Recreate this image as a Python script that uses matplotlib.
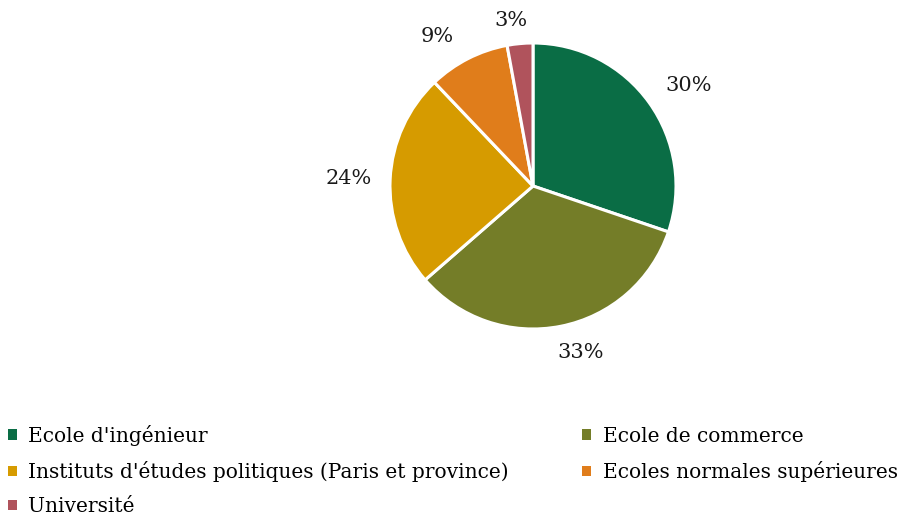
import matplotlib.pyplot as plt
from matplotlib.patches import Patch

labels = ["Ecole d'ingénieur", "Ecole de commerce",
          "Instituts d'études politiques (Paris et province)",
          "Ecoles normales supérieures", "Université"]
shares = [30.2, 33.4, 24.3, 9.2, 2.9]
colors = ['#0a6d45', '#747d28', '#d69b00', '#e07d1b', '#b0535c']

# where the percentage labels sit, in pie-radius units (Excel best fit)
label_xy = [(1.09, 0.70), (0.33, -1.165), (-1.29, 0.05), (-0.67, 1.045), (-0.155, 1.157)]

plt.rcParams['font.family'] = ['DejaVu Serif']

fig = plt.figure(figsize=(9.02, 5.17), dpi=100)
r = 143 / 517
ax = fig.add_axes([533 / 902 - r * 517 / 902, 1 - 186 / 517 - r, 2 * r * 517 / 902, 2 * r])

wedges, texts, autotexts = ax.pie(
    shares, colors=colors, startangle=90, counterclock=False, radius=1,
    autopct='%.0f%%', pctdistance=1.24,
    wedgeprops=dict(edgecolor='white', linewidth=2.2),
    textprops=dict(fontsize=15, color='#1a1a1a'))
for t, xy in zip(autotexts, label_xy):
    t.set_position(xy)
ax.set_xlim(-1, 1)
ax.set_ylim(-1, 1)
ax.set_aspect('equal')
ax.axis('off')

# legend filled column-wise, so reorder to read row by row
order = [0, 2, 4, 1, 3]
handles = [Patch(facecolor=colors[i]) for i in order]
fig.legend(handles, [labels[i] for i in order], ncol=2, loc='upper left',
           bbox_to_anchor=(0.009, 1 - 425 / 517), bbox_transform=fig.transFigure,
           frameon=False, fontsize=14.5, handlelength=0.45, handleheight=0.45,
           handletextpad=0.55, columnspacing=3.65, labelspacing=0.75,
           borderaxespad=0, borderpad=0)

fig.savefig('out.png', dpi=100)
